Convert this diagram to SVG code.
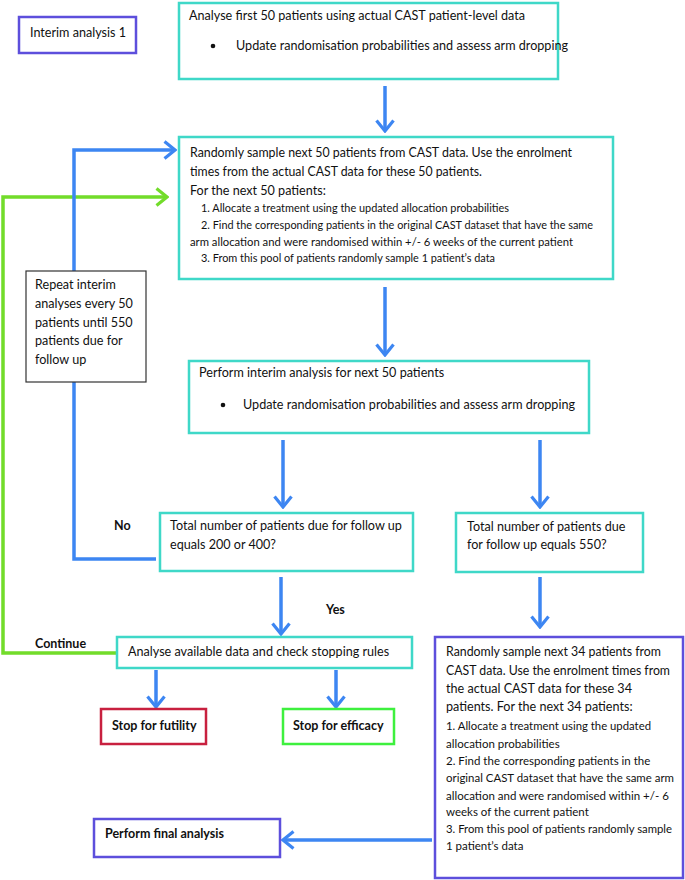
<svg xmlns="http://www.w3.org/2000/svg" width="685" height="880" viewBox="0 0 685 880">
<defs>
<style>
.t{font-family:Lato,"Liberation Sans",sans-serif;font-size:12.6px;fill:#111}
.s{font-family:Lato,"Liberation Sans",sans-serif;font-size:11.5px;fill:#111}
.b{font-family:Lato,"Liberation Sans",sans-serif;font-size:12.5px;font-weight:bold;fill:#111}
.tq{fill:#fff;stroke:#3fd8c8;stroke-width:2.5}
.pu{fill:#fff;stroke:#5d4fdc;stroke-width:2.5}
.bk{fill:#fff;stroke:#333;stroke-width:1.2}
.bl{fill:none;stroke:#3d86f2;stroke-width:3.5}
.gr{fill:none;stroke:#72dc2a;stroke-width:3.5}
</style>
<marker id="ab" viewBox="0 0 14 20" markerWidth="14" markerHeight="20" refX="12" refY="10" orient="auto" markerUnits="userSpaceOnUse"><path d="M1.5,1.5 L12,10 L1.5,18.5" fill="none" stroke="#3d86f2" stroke-width="3.2"/></marker>
<marker id="ag" viewBox="0 0 14 20" markerWidth="14" markerHeight="20" refX="12" refY="10" orient="auto" markerUnits="userSpaceOnUse"><path d="M1.5,1.5 L12,10 L1.5,18.5" fill="none" stroke="#72dc2a" stroke-width="3.2"/></marker>
</defs>
<rect width="685" height="880" fill="#fff"/>

<g id="connectors">
<path class="gr" d="M117,653 H3 V197 H167" marker-end="url(#ag)"/>
<path class="bl" d="M156,559 H74 V150 H175" marker-end="url(#ab)"/>
<path class="bl" d="M385,86 V131" marker-end="url(#ab)"/>
<path class="bl" d="M385,287 V355" marker-end="url(#ab)"/>
<path class="bl" d="M283,440 V507" marker-end="url(#ab)"/>
<path class="bl" d="M540,440 V507" marker-end="url(#ab)"/>
<path class="bl" d="M281,577 V634" marker-end="url(#ab)"/>
<path class="bl" d="M540,577 V627" marker-end="url(#ab)"/>
<path class="bl" d="M156,670 V707" marker-end="url(#ab)"/>
<path class="bl" d="M336,670 V707" marker-end="url(#ab)"/>
<path class="bl" d="M432,840 H283" marker-end="url(#ab)"/>
</g>

<g id="interim1">
<rect class="pu" x="19" y="17" width="117" height="36"/>
<text class="t" x="30" y="37">Interim analysis 1</text>
</g>

<g id="analyse-first">
<rect class="tq" x="179" y="3" width="379" height="76"/>
<text class="t" x="189" y="20">Analyse first 50 patients using actual CAST patient-level data</text>
<circle cx="213" cy="46" r="2.3" fill="#111"/>
<text class="t" x="236" y="50">Update randomisation probabilities and assess arm dropping</text>
</g>

<g id="sample50">
<rect class="tq" x="179" y="137" width="434" height="142"/>
<text class="t" x="190" y="157" textLength="382" lengthAdjust="spacingAndGlyphs">Randomly sample next 50 patients from CAST data. Use the enrolment</text>
<text class="t" x="190" y="176" textLength="292" lengthAdjust="spacingAndGlyphs">times from the actual CAST data for these 50 patients.</text>
<text class="t" x="190" y="195">For the next 50 patients:</text>
<text class="s" x="201" y="212" textLength="308" lengthAdjust="spacingAndGlyphs">1. Allocate a treatment using the updated allocation probabilities</text>
<text class="s" x="201" y="229" textLength="392" lengthAdjust="spacingAndGlyphs">2. Find the corresponding patients in the original CAST dataset that have the same</text>
<text class="s" x="190" y="246" textLength="383" lengthAdjust="spacingAndGlyphs">arm allocation and were randomised within +/- 6 weeks of the current patient</text>
<text class="s" x="201" y="262" textLength="294" lengthAdjust="spacingAndGlyphs">3. From this pool of patients randomly sample 1 patient’s data</text>
</g>

<g id="repeat">
<rect class="bk" x="26" y="271" width="120" height="111"/>
<text class="t" x="35" y="289">Repeat interim</text>
<text class="t" x="35" y="308">analyses every 50</text>
<text class="t" x="35" y="327">patients until 550</text>
<text class="t" x="35" y="345">patients due for</text>
<text class="t" x="35" y="364">follow up</text>
</g>

<g id="perform-interim">
<rect class="tq" x="189" y="361" width="400" height="72"/>
<text class="t" x="199" y="377">Perform interim analysis for next 50 patients</text>
<circle cx="223" cy="405" r="2.3" fill="#111"/>
<text class="t" x="243" y="409">Update randomisation probabilities and assess arm dropping</text>
</g>

<g id="check200">
<rect class="tq" x="160" y="513" width="253" height="58"/>
<text class="t" x="170" y="530">Total number of patients due for follow up</text>
<text class="t" x="170" y="549">equals 200 or 400?</text>
</g>

<g id="check550">
<rect class="tq" x="456" y="513" width="187" height="59"/>
<text class="t" x="467" y="531">Total number of patients due</text>
<text class="t" x="467" y="549">for follow up equals 550?</text>
</g>

<g id="labels">
<text class="b" x="114" y="530">No</text>
<text class="b" x="326" y="614">Yes</text>
<text class="b" x="35" y="648">Continue</text>
</g>

<g id="analyse-available">
<rect class="tq" x="117" y="637" width="295" height="31"/>
<text class="t" x="128" y="656">Analyse available data and check stopping rules</text>
</g>

<g id="futility">
<rect x="101" y="709" width="105" height="35" fill="#fff" stroke="#c8203f" stroke-width="2.5"/>
<text class="b" x="112" y="730">Stop for futility</text>
</g>

<g id="efficacy">
<rect x="283" y="709" width="111" height="35" fill="#fff" stroke="#3ef03e" stroke-width="2.5"/>
<text class="b" x="293" y="730">Stop for efficacy</text>
</g>

<g id="sample34">
<rect class="pu" x="435" y="637" width="248" height="241"/>
<text class="t" x="446" y="656" textLength="215" lengthAdjust="spacingAndGlyphs">Randomly sample next 34 patients from</text>
<text class="t" x="446" y="674.5" textLength="224" lengthAdjust="spacingAndGlyphs">CAST data. Use the enrolment times from</text>
<text class="t" x="446" y="693">the actual CAST data for these 34</text>
<text class="t" x="446" y="711">patients. For the next 34 patients:</text>
<text class="s" x="446" y="730" textLength="205" lengthAdjust="spacingAndGlyphs">1. Allocate a treatment using the updated</text>
<text class="s" x="446" y="748">allocation probabilities</text>
<text class="s" x="446" y="765">2. Find the corresponding patients in the</text>
<text class="s" x="446" y="782" textLength="228" lengthAdjust="spacingAndGlyphs">original CAST dataset that have the same arm</text>
<text class="s" x="446" y="799.5">allocation and were randomised within +/- 6</text>
<text class="s" x="446" y="816">weeks of the current patient</text>
<text class="s" x="446" y="833" textLength="226" lengthAdjust="spacingAndGlyphs">3. From this pool of patients randomly sample</text>
<text class="s" x="446" y="849.5">1 patient’s data</text>
</g>

<g id="final">
<rect class="pu" x="94" y="819" width="186" height="38"/>
<text class="b" x="105" y="838">Perform final analysis</text>
</g>
</svg>
